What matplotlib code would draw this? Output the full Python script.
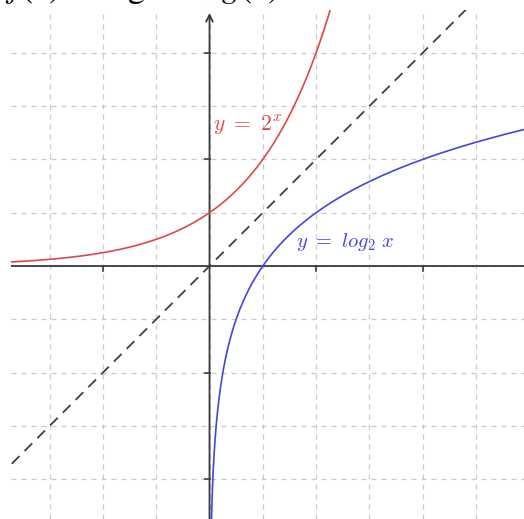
import numpy as np
import matplotlib
matplotlib.use("Agg")
import matplotlib.pyplot as plt

# ---- data ----
exp_base = 2.0                       # y = 2^x
log_base = 2.0                       # y = log_2 x
x_exp = np.linspace(-3.8, 2.4, 400)
x_log = np.concatenate([np.geomspace(0.0005, 0.5, 300), np.linspace(0.5, 6.0, 300)])
x_diag = [-4.0, 5.0]
grid_vals = list(range(-5, 7))
x_ticks = [-2, 2, 4]
y_ticks = [-4, -2, 2, 4]
label_exp = r"$y\ =\ 2^x$"
label_log = r"$y\ =\ log_2\ x$"
title_parts = [r"$f(x)$", r"$=$", r"$\log_2 x$", "与", r"$g(x)$"]
title_px = [5, 72, 99, 183, 221]

W, H = 524, 519
fig = plt.figure(figsize=(W / 100, H / 100), dpi=100)
fig.patch.set_facecolor("white")

ox, oy, unit = 209.5, 266.0, 53.3
left_px, top_px = 11.0, 10.0
ax = fig.add_axes([left_px / W, 0.0, 1 - left_px / W, 1 - top_px / H])
ax.set_xlim((left_px - ox) / unit, (W - ox) / unit)
ax.set_ylim((oy - H) / unit, (oy - top_px) / unit)
ax.set_axis_off()

# grid
for g in grid_vals:
    ax.axvline(g, color="#c9c9c9", lw=0.9, ls=(0, (4, 4)), zorder=0)
    ax.axhline(g, color="#c9c9c9", lw=0.9, ls=(0, (4, 4)), zorder=0)

# axes lines
ax.axhline(0, color="#3a3a3a", lw=1.3, zorder=2)
ymin, ymax = ax.get_ylim()
ax.annotate("", xy=(0, (oy - 13) / unit), xytext=(0, ymin - 0.1),
            arrowprops=dict(arrowstyle="->", color="#3a3a3a", lw=1.3,
                            mutation_scale=12, shrinkA=0, shrinkB=0), zorder=2)

# ticks
tl = 4.5 / unit
for t in x_ticks:
    ax.plot([t, t], [0, -tl], color="#3a3a3a", lw=1.2, zorder=2)
for t in y_ticks:
    ax.plot([-tl, 0], [t, t], color="#3a3a3a", lw=1.2, zorder=2)

# diagonal y = x
ax.plot(x_diag, x_diag, color="#404040", lw=1.3, ls=(0, (6, 4)), zorder=3)

# curves
ax.plot(x_exp, np.power(exp_base, x_exp), color="#e04848", lw=1.2, zorder=4)
ax.plot(x_log, np.log(x_log) / np.log(log_base), color="#4545dd", lw=1.2, zorder=4)

# labels
ax.text(0.07, 2.63, label_exp, color="#e04848", fontsize=15.5,
        math_fontfamily="cm", va="center", ha="left")
ax.text(1.62, 0.45, label_log, color="#4545dd", fontsize=14.8,
        math_fontfamily="cm", va="center", ha="left")

# cropped heading at top edge
for part, px in zip(title_parts, title_px):
    fig.text(px / W, 1 + 3.5 / H, part, fontsize=26, color="black",
             family=["Noto Sans CJK SC", "DejaVu Sans"], math_fontfamily="stix",
             va="baseline", ha="left")

fig.savefig("out.png", dpi=100, facecolor="white")
